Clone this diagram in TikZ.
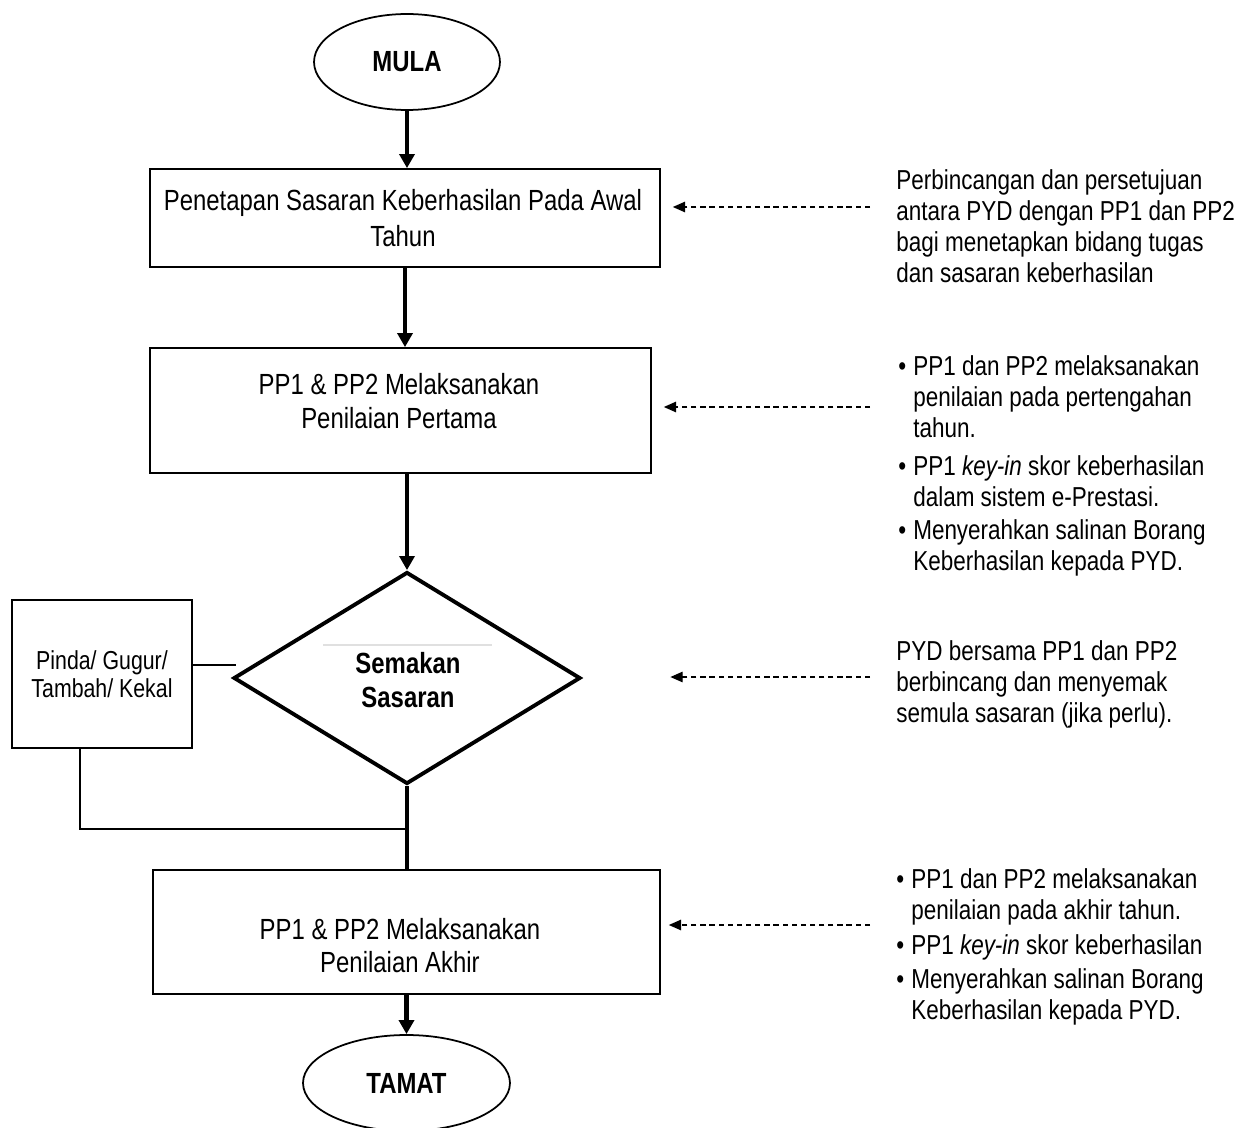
\documentclass[tikz,border=0pt]{standalone}
\usepackage{fontspec}
\setmainfont[FakeStretch=0.82]{Liberation Sans}
\usetikzlibrary{arrows.meta,shapes.geometric}
\newcommand\bulitem{\makebox[8.5pt][l]{\textbullet}}
\newcommand\hangsp{\hspace*{8.5pt}}
\begin{document}
\begin{tikzpicture}[x=0.02cm,y=-0.02cm,
  boxst/.style={draw,line width=1pt,rectangle,inner sep=0pt},
  termst/.style={draw,ellipse,line width=1pt,inner sep=0pt,font=\bfseries\fontsize{16.6}{20}\selectfont},
  mainarr/.style={line width=2.6pt,-{Triangle[length=8pt,width=8.5pt]}},
  trunkln/.style={line width=2.6pt},
  thinln/.style={line width=1pt},
  dasharr/.style={line width=0.7pt,dash pattern=on 3pt off 2.2pt,-{Triangle[length=7pt,width=6pt]}},
  sidetxt/.style={anchor=west,align=left,inner sep=0pt,font=\fontsize{15.6}{17.6}\selectfont},
  boxtxt/.style={align=center,inner sep=0pt}
]
\useasboundingbox[fill=white] (0,0) rectangle (1241,1128);

% terminals
\node[termst,minimum width=3.72cm,minimum height=1.92cm] (mula) at (407,62) {MULA};
\node[termst,minimum width=4.14cm,minimum height=1.92cm] (tamat) at (406.5,1083) {TAMAT};

% process boxes
\node[boxst,minimum width=10.2cm,minimum height=1.96cm] (b1) at (405,218) {};
\node[boxtxt,font=\fontsize{16.6}{20.5}\selectfont] (t1) at (403,218) {Penetapan Sasaran Keberhasilan Pada Awal\\Tahun};

\node[boxst,minimum width=10.02cm,minimum height=2.5cm] (b2) at (400.5,410.5) {};
\node[boxtxt,font=\fontsize{16.6}{19.4}\selectfont] (t2) at (399,401) {PP1 \& PP2 Melaksanakan\\Penilaian Pertama};

\node[boxst,minimum width=10.14cm,minimum height=2.48cm] (b3) at (406.5,932) {};
\node[boxtxt,font=\fontsize{16.6}{18.8}\selectfont] (t3) at (400,946) {PP1 \& PP2 Melaksanakan\\Penilaian Akhir};

% decision
\node[diamond,draw,line width=2.2pt,inner sep=0pt,minimum width=6.94cm,minimum height=4.24cm] (d) at (407,678) {};
\node[boxtxt,font=\bfseries\fontsize{16.6}{19.4}\selectfont] (dt) at (408,680) {Semakan\\Sasaran};
\coordinate (gl1) at (323,645);
\coordinate (gl2) at (492,645);
\draw[black!12,line width=0.6pt] (gl1) -- (gl2);

% side box
\node[boxst,minimum width=3.6cm,minimum height=2.96cm,align=center,font=\fontsize{14.8}{16}\selectfont] (p) at (102,674) {Pinda/ Gugur/\\Tambah/ Kekal};

% main flow
\draw[mainarr] (mula.south) -- (mula.south |- b1.north);
\draw[mainarr] (b1.south) -- (b1.south |- b2.north);
\draw[mainarr] (b2.south -| d.north) -- (d.north);
\draw[trunkln] (d.south) -- (d.south |- b3.north);
\draw[mainarr] (b3.south) -- (tamat.north);

% loop from side box
\coordinate (pj) at (236,665);
\coordinate (jn) at (407,829);
\draw[thinln] (pj -| p.east) -- (pj);
\draw[thinln] ([xshift=-0.44cm]p.south) |- (jn);

% side notes
\node[sidetxt] (s1) at (896,226) {Perbincangan dan persetujuan\\antara PYD dengan PP1 dan PP2\\bagi menetapkan bidang tugas\\dan sasaran keberhasilan};
\node[sidetxt] (s2) at (898,466) {\bulitem PP1 dan PP2 melaksanakan\\\hangsp penilaian pada pertengahan\\\hangsp tahun.\\[4pt]\bulitem PP1 \textit{key-in} skor keberhasilan\\\hangsp dalam sistem e-Prestasi.\\[1.5pt]\bulitem Menyerahkan salinan Borang\\\hangsp Keberhasilan kepada PYD.};
\node[sidetxt] (s3) at (896,684) {PYD bersama PP1 dan PP2\\berbincang dan menyemak\\semula sasaran (jika perlu).};
\node[sidetxt] (s4) at (896,947) {\bulitem PP1 dan PP2 melaksanakan\\\hangsp penilaian pada akhir tahun.\\[2pt]\bulitem PP1 \textit{key-in} skor keberhasilan\\[2pt]\bulitem Menyerahkan salinan Borang\\\hangsp Keberhasilan kepada PYD.};

% dashed arrows
\coordinate (a1) at (870,207);
\coordinate (a2) at (870,407);
\coordinate (a3) at (870,677);
\coordinate (a4) at (870,925);
\draw[dasharr,shorten >=0.24cm] (a1) -- (a1 -| b1.east);
\draw[dasharr,shorten >=0.24cm] (a2) -- (a2 -| b2.east);
\draw[dasharr,shorten >=1.76cm] (a3) -- (a3 -| d.east);
\draw[dasharr,shorten >=0.16cm] (a4) -- (a4 -| b3.east);
\end{tikzpicture}
\end{document}
